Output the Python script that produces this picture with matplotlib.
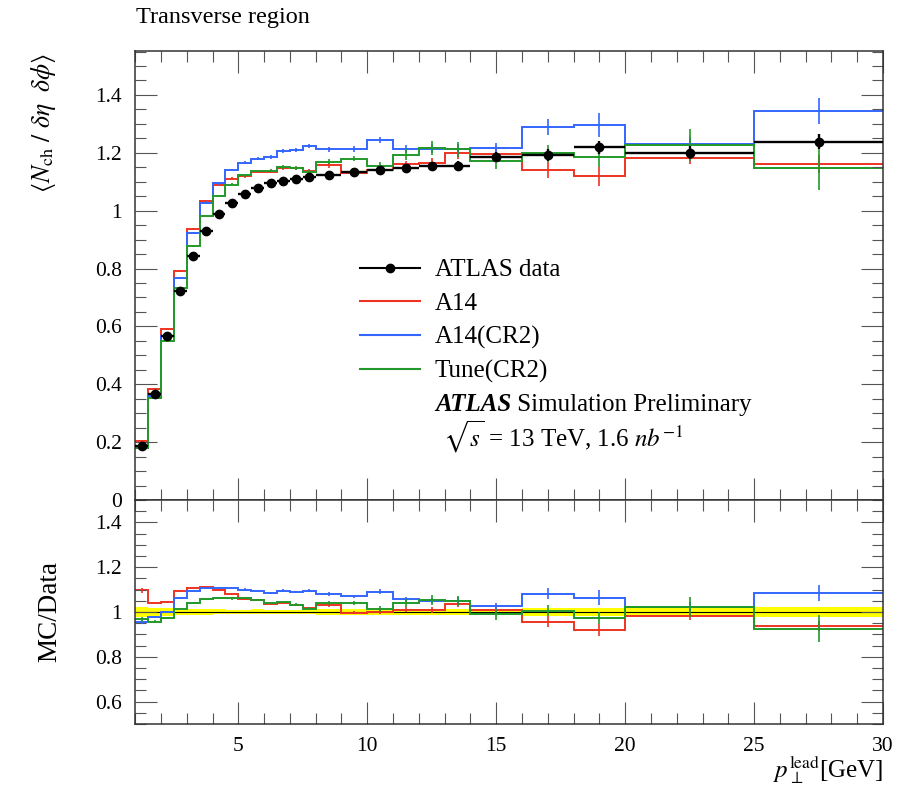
import numpy as np
import matplotlib
matplotlib.use('Agg')
import matplotlib.pyplot as plt
from matplotlib.lines import Line2D
from matplotlib.ticker import MultipleLocator, FixedLocator, FuncFormatter

plt.rcParams['font.family'] = ['Liberation Serif', 'DejaVu Serif']
plt.rcParams['mathtext.fontset'] = 'stix'

# bin edges in pT(lead) [GeV]
edges = [1.0, 1.5, 2.0, 2.5, 3.0, 3.5, 4.0, 4.5, 5.0, 5.5, 6.0, 6.5, 7.0, 7.5, 8.0,
         9.0, 10.0, 11.0, 12.0, 13.0, 14.0, 16.0, 18.0, 20.0, 25.0, 30.0]

data = [0.187, 0.368, 0.566, 0.722, 0.845, 0.930, 0.990, 1.028, 1.059, 1.078,
        1.094, 1.102, 1.111, 1.117, 1.123, 1.134, 1.140, 1.148, 1.155, 1.155,
        1.185, 1.192, 1.219, 1.201, 1.239]
data_err = [0.0043, 0.0070, 0.0095, 0.010, 0.010, 0.011, 0.011, 0.011, 0.011, 0.012,
            0.012, 0.012, 0.012, 0.012, 0.013, 0.013, 0.013, 0.014, 0.014, 0.015,
            0.017, 0.020, 0.022, 0.024, 0.027]

a14 = [0.205, 0.383, 0.591, 0.791, 0.936, 1.032, 1.088, 1.111, 1.119, 1.134,
       1.134, 1.146, 1.146, 1.138, 1.157, 1.131, 1.142, 1.160, 1.165, 1.198,
       1.197, 1.140, 1.119, 1.182, 1.161]
a14_err = [0.002, 0.002, 0.003, 0.003, 0.003, 0.004, 0.004, 0.004, 0.005, 0.005,
           0.005, 0.006, 0.006, 0.006, 0.008, 0.008, 0.010, 0.012, 0.016, 0.018,
           0.018, 0.028, 0.032, 0.022, 0.030]

a14cr2 = [0.179, 0.360, 0.566, 0.768, 0.924, 1.028, 1.094, 1.140, 1.165, 1.180,
          1.186, 1.207, 1.209, 1.223, 1.212, 1.213, 1.244, 1.214, 1.214, 1.214,
          1.215, 1.290, 1.296, 1.229, 1.344]
a14cr2_err = [0.002, 0.002, 0.003, 0.003, 0.003, 0.004, 0.004, 0.004, 0.005, 0.005,
              0.006, 0.006, 0.006, 0.007, 0.009, 0.009, 0.011, 0.013, 0.015, 0.018,
              0.018, 0.028, 0.040, 0.025, 0.045]

tune = [0.181, 0.352, 0.551, 0.733, 0.878, 0.982, 1.051, 1.090, 1.123, 1.137,
        1.138, 1.151, 1.148, 1.134, 1.169, 1.180, 1.154, 1.194, 1.217, 1.212,
        1.173, 1.198, 1.186, 1.227, 1.146]
tune_err = [0.002, 0.002, 0.003, 0.003, 0.003, 0.004, 0.004, 0.005, 0.005, 0.005,
            0.006, 0.006, 0.007, 0.007, 0.009, 0.010, 0.014, 0.018, 0.024, 0.026,
            0.028, 0.030, 0.035, 0.055, 0.075]

labels = ['ATLAS data', 'A14', 'A14(CR2)', 'Tune(CR2)']
colors = ['#EE3322', '#3366FF', '#22992A']

edges = np.array(edges)
centers = 0.5 * (edges[1:] + edges[:-1])
halfw = 0.5 * (edges[1:] - edges[:-1])
data = np.array(data)
data_err = np.array(data_err)

fig = plt.figure(figsize=(9.08, 7.94), dpi=100)
ax = fig.add_axes([0.1489, 0.3703, 0.8236, 0.5655])
ax2 = fig.add_axes([0.1489, 0.0882, 0.8236, 0.2821], sharex=ax)

mcs = [(a14, a14_err), (a14cr2, a14cr2_err), (tune, tune_err)]
for (vals, errs), c in zip(mcs, colors):
    vals = np.array(vals)
    errs = np.array(errs)
    ax.stairs(vals, edges, baseline=None, color=c, lw=1.4)
    ax.errorbar(centers, vals, yerr=errs, fmt='none', ecolor=c, elinewidth=1.2)
    ax2.stairs(vals / data, edges, baseline=None, color=c, lw=1.4)
    ax2.errorbar(centers, vals / data, yerr=errs / data, fmt='none', ecolor=c, elinewidth=1.2)

ax.errorbar(centers, data, xerr=halfw, yerr=data_err, fmt='o', color='black',
            ms=6, elinewidth=1.7, capsize=0, zorder=5)

rel = data_err / data
ax2.stairs(1 + rel, edges, baseline=1 - rel, fill=True, color='#FFFF00', zorder=0.5)
ax2.axhline(1.0, color='black', lw=0.8, zorder=0.6)

ax.set_xlim(1, 30)
ax.set_ylim(0, 1.552)
ax2.set_ylim(0.5, 1.5)

fmt = FuncFormatter(lambda v, p: '%g' % round(v, 3))
ax.yaxis.set_major_locator(MultipleLocator(0.2))
ax.yaxis.set_minor_locator(MultipleLocator(0.05))
ax.yaxis.set_major_formatter(fmt)
ax2.yaxis.set_major_locator(FixedLocator([0.6, 0.8, 1.0, 1.2, 1.4]))
ax2.yaxis.set_minor_locator(MultipleLocator(0.05))
ax2.yaxis.set_major_formatter(fmt)
ax2.xaxis.set_major_locator(MultipleLocator(5))
ax2.xaxis.set_minor_locator(MultipleLocator(1))

for a in (ax, ax2):
    a.tick_params(which='both', direction='in', top=True, right=True,
                  color='#555555', width=0.8, labelsize=15.5, pad=9.5)
    a.tick_params(which='major', length=16)
    a.tick_params(which='minor', length=8)
    for s in a.spines.values():
        s.set_linewidth(1.1)
        s.set_color('#333333')
ax.tick_params(labelbottom=False)

handles = [Line2D([], [], color='black', marker='o', ms=6, lw=1.5)]
handles += [Line2D([], [], color=c, lw=1.5) for c in colors]
ax.legend(handles, labels, loc='upper left', bbox_to_anchor=(0.3006, 0.5367),
          frameon=False, fontsize=18, handlelength=2.4, handletextpad=0.6,
          labelspacing=0.44, borderpad=0, borderaxespad=0)

t1 = ax.text(0.4009, 0.2116, 'ATLAS', fontsize=18, fontweight='bold', fontstyle='italic',
             ha='left', va='center', transform=ax.transAxes)
ax.annotate(' Simulation Preliminary', xy=(1, 0), xycoords=t1, fontsize=18,
            ha='left', va='bottom')
ax.text(0.4118, 0.1403, r'$\sqrt{s}$ = 13 TeV, 1.6 $nb^{-1}$', fontsize=18,
        ha='left', va='center', transform=ax.transAxes)

fig.text(136 / 908, 1 - 18 / 794, 'Transverse region', fontsize=17.5, ha='left', va='center')
fig.text(43 / 908, 1 - 53 / 794,
         r'$\langle N_{\mathrm{ch}}\ /\ \delta\eta\ \ \delta\phi\rangle$',
         fontsize=18.5, rotation=90, ha='center', va='top')
fig.text(50 / 908, 1 - 612 / 794, 'MC/Data', fontsize=19.5, rotation=90, ha='center', va='center')
ax2.text(1.0, -0.237, r'$p_{\perp}^{\mathrm{lead}}$[GeV]', fontsize=18,
         ha='right', va='baseline', transform=ax2.transAxes)

fig.savefig('out.png', dpi=100)
